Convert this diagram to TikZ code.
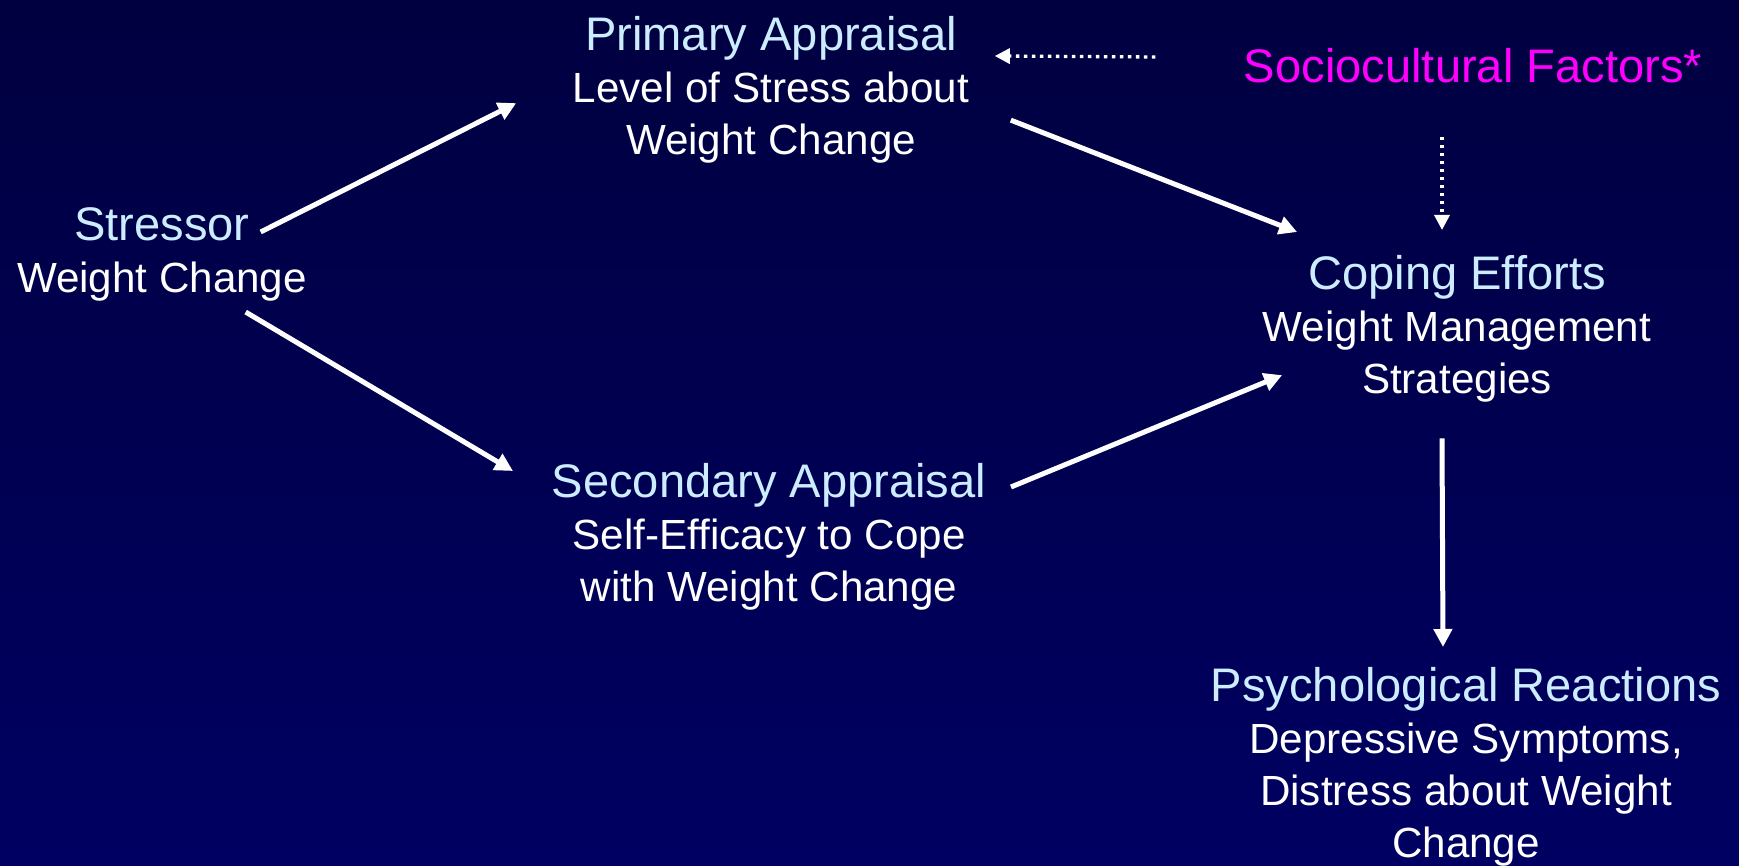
\documentclass[tikz,border=0pt]{standalone}
\usepackage{fontspec}
\setmainfont{Liberation Sans}
\usetikzlibrary{arrows.meta}
\definecolor{bgtop}{HTML}{000040}
\definecolor{bgbottom}{HTML}{000062}
\definecolor{headblue}{HTML}{CCECFF}
\definecolor{socmagenta}{HTML}{FF00FF}

% first line of every block: larger, light blue
\newcommand{\headline}[1]{{\color{headblue}\fontsize{13.4}{14.8}\selectfont #1}}

\begin{document}
\begin{tikzpicture}[
    x=0.1mm, y=-0.1mm,
    block/.style={anchor=north, align=center, inner sep=0pt, text=white,
      font=\fontsize{12}{14.8}\selectfont},
    flow/.style={draw=white, line width=0.5mm,
      -{Triangle[length=1.8mm,width=1.8mm]}},
    hint/.style={draw=white, line width=0.33mm,
      dash pattern=on 0.33mm off 0.47mm,
      -{Triangle[length=1.5mm,width=1.5mm]}},
  ]

  % ---------- Backdrop ----------------------------------------------------
  \useasboundingbox (0,0) rectangle (1739,866);
  \shade[top color=bgtop, bottom color=bgbottom] (0,0) rectangle (1739,866);

  % ---------- Blocks ------------------------------------------------------
  \node[block] (stressor) at (162,207)
    {\headline{Stressor}\\Weight Change};
  \node[block] (primary) at (771,16)
    {\headline{Primary Appraisal}\\Level of Stress about\\Weight Change};
  \node[block] (secondary) at (769,463)
    {\headline{Secondary Appraisal}\\Self-Efficacy to Cope\\with Weight Change};
  \node[block] (coping) at (1457,255)
    {\headline{Coping Efforts}\\Weight Management\\Strategies};
  \node[block] (psych) at (1466,667)
    {\headline{Psychological Reactions}\\Depressive Symptoms,\\Distress about Weight\\Change};
  \node[block, text=socmagenta, font=\fontsize{13.4}{14.8}\selectfont] (socio)
    at (1473,48) {Sociocultural Factors*};

  % ---------- Main paths --------------------------------------------------
  \draw[flow] ([shift={(-47,25)}]stressor.north east)
    -- ([shift={(-56,13)}]primary.west);
  \draw[flow] ([shift={(-62,10)}]stressor.south east)
    -- ([shift={(-38,8)}]secondary.north west);
  \draw[flow] ([shift={(41,30)}]primary.east)
    -- ([shift={(35,-23)}]coping.north west);
  \draw[flow] ([shift={(24,24)}]secondary.north east)
    -- ([shift={(20,46)}]coping.west);
  \draw[flow] ([shift={(-15,35)}]coping.south)
    -- ([shift={(-23,-20)}]psych.north);

  % ---------- Sociocultural influence (dotted) ----------------------------
  \draw[hint] ([shift={(-88,-9)}]socio.west)
    -- ([shift={(25,40)}]primary.north east);
  \draw[hint] ([shift={(-31,53)}]socio.south)
    -- ([shift={(-15,-25)}]coping.north);

\end{tikzpicture}
\end{document}
